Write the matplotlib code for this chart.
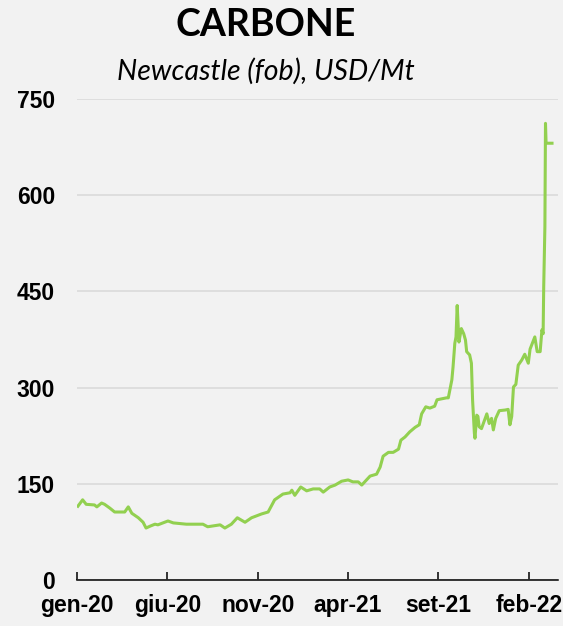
import numpy as np
import pandas as pd
import matplotlib
matplotlib.use('Agg')
import matplotlib.pyplot as plt
import matplotlib.dates as mdates

# Newcastle coal price (fob), USD/Mt
dates = [
    '2020-01-02', '2020-01-10', '2020-01-16', '2020-01-30', '2020-02-03', '2020-02-11',
    '2020-02-16', '2020-02-25', '2020-03-04', '2020-03-21', '2020-03-27', '2020-04-02',
    '2020-04-13', '2020-04-21', '2020-04-26', '2020-05-03', '2020-05-11', '2020-05-16',
    '2020-06-02', '2020-06-11', '2020-07-03', '2020-07-31', '2020-08-08', '2020-08-29',
    '2020-09-06', '2020-09-17', '2020-09-27', '2020-10-10', '2020-10-21', '2020-11-07',
    '2020-11-18', '2020-11-29', '2020-12-13', '2020-12-25', '2020-12-28', '2021-01-02',
    '2021-01-12', '2021-01-22', '2021-02-02', '2021-02-13', '2021-02-19', '2021-03-02',
    '2021-03-11', '2021-03-22', '2021-04-02', '2021-04-10', '2021-04-19', '2021-04-25',
    '2021-05-03', '2021-05-09', '2021-05-20', '2021-05-26', '2021-05-31', '2021-06-09',
    '2021-06-17', '2021-06-26', '2021-06-30', '2021-07-07', '2021-07-15', '2021-07-24',
    '2021-07-31', '2021-08-04', '2021-08-11', '2021-08-18', '2021-08-26', '2021-08-30',
    '2021-09-15', '2021-09-18', '2021-09-24', '2021-09-26', '2021-09-29', '2021-10-01',
    '2021-10-03', '2021-10-06', '2021-10-10', '2021-10-14', '2021-10-17', '2021-10-19',
    '2021-10-24', '2021-10-27', '2021-10-29', '2021-11-01', '2021-11-02', '2021-11-05',
    '2021-11-07', '2021-11-09', '2021-11-13', '2021-11-22', '2021-11-26', '2021-11-30',
    '2021-12-03', '2021-12-07', '2021-12-13', '2021-12-23', '2021-12-28', '2021-12-31',
    '2022-01-03', '2022-01-06', '2022-01-10', '2022-01-14', '2022-01-20', '2022-01-25',
    '2022-01-31', '2022-02-03', '2022-02-11', '2022-02-15', '2022-02-20', '2022-02-23',
    '2022-02-25', '2022-02-26', '2022-02-28', '2022-03-01', '2022-03-02', '2022-03-12',
]
prices = [
    115, 125, 118, 117, 114, 120,
    118, 112, 106, 106, 114, 104,
    97, 90, 81, 84, 87, 86,
    92, 89, 87, 87, 83, 86,
    81, 87, 97, 90, 97, 103,
    106, 125, 134, 136, 140, 132,
    145, 139, 142, 142, 137, 145,
    148, 154, 156, 153, 153, 148,
    156, 162, 165, 176, 193, 199,
    199, 204, 218, 223, 231, 238,
    242, 259, 270, 268, 271, 281,
    284, 284, 312, 332, 369, 379,
    428, 371, 392, 384, 374, 356,
    351, 338, 280, 229, 221, 257,
    255, 239, 236, 259, 244, 252,
    234, 252, 264, 265, 266, 242,
    255, 301, 305, 335, 343, 352,
    338, 360, 379, 356, 356, 390,
    384, 457, 551, 712, 681, 681,
]

tick_dates = ['2020-01-01', '2020-06-01', '2020-11-01', '2021-04-01', '2021-09-01', '2022-02-01']
tick_labels = ['gen-20', 'giu-20', 'nov-20', 'apr-21', 'set-21', 'feb-22']
y_ticks = [0, 150, 300, 450, 600, 750]

bg = '#F2F2F2'
tick_font = dict(family=['Liberation Sans Narrow', 'Liberation Sans'], weight='bold', size=16.5)

fig = plt.figure(figsize=(5.63, 6.26), dpi=100, facecolor=bg)
ax = fig.add_axes([0.1373, 0.0735, 0.8537, 0.7684], facecolor=bg)

ax.plot(pd.to_datetime(dates), prices, color='#92D050', lw=2.2, zorder=3)

ax.set_ylim(0, 750)
ax.set_yticks(y_ticks)
ax.set_xlim(pd.Timestamp('2020-01-01'), pd.Timestamp('2022-03-22'))
ax.set_xticks(pd.to_datetime(tick_dates))
ax.set_xticklabels(tick_labels)

ax.grid(axis='y', color='#D9D9D9', lw=1.1, zorder=0)
ax.set_axisbelow(True)
for s in ['left', 'right', 'top']:
    ax.spines[s].set_visible(False)
ax.spines['bottom'].set_color('black')
ax.spines['bottom'].set_linewidth(1.1)
ax.spines['bottom'].set_zorder(4)

ax.tick_params(axis='y', length=0, pad=16)
ax.tick_params(axis='x', direction='in', length=6, width=1.1, pad=10)
for lab in ax.get_xticklabels() + ax.get_yticklabels():
    lab.set_fontproperties(matplotlib.font_manager.FontProperties(**tick_font))

fig.text(266 / 563, 1 - 36 / 626, 'CARBONE', ha='center', va='baseline',
         family='Lato', weight='bold', size=27)
fig.text(266 / 563, 1 - 80 / 626, 'Newcastle (fob), USD/Mt', ha='center', va='baseline',
         family='Lato', style='italic', size=20.5)

fig.savefig('out.png', dpi=100, facecolor=bg)
